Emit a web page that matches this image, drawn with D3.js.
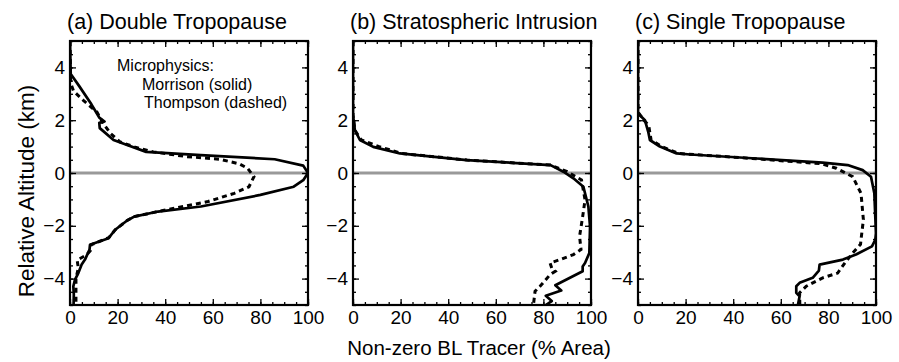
<!DOCTYPE html>
<html>
<head>
<meta charset="utf-8">
<script src="https://cdn.jsdelivr.net/npm/d3@7"></script>
<style>
  body { margin: 0; background: #fff; }
  svg { font-family: "Liberation Sans", Arial, Helvetica, sans-serif; }
</style>
</head>
<body>
<svg id="chart" width="899" height="362"></svg>
<script>
// (a) double tropopause
const aSolidAlt = [5, 3.75, 3.3, 2.6, 2.1, 1.95, 1.9, 1.7, 1.25, 1.06, 0.8, 0.68, 0.52, 0.28, 0, -0.27, -0.52, -0.83, -1.27, -1.46, -1.65, -1.8, -2.15, -2.47, -2.72, -2.9, -3.28, -3.47, -3.79, -4.04, -4.29, -4.6, -5];
const aSolidPct = [0, 0.3, 3.8, 9, 12.3, 14.5, 12.3, 12.5, 18.3, 24, 32, 55, 86, 98, 100, 98, 94, 80, 55, 37, 27, 24, 19, 16.2, 8.4, 8.2, 6.3, 4.9, 3.5, 2.1, 1.4, 1.6, 1.5];
const aDashAlt = [5, 3.4, 3.1, 2.75, 2.31, 1.87, 1.5, 1.18, 0.99, 0.8, 0.62, 0.52, 0.35, 0.18, -0.14, -0.52, -0.77, -1.08, -1.33, -1.46, -1.65, -1.8, -2.15, -2.45, -2.72, -2.95, -3.1, -3.3, -3.6, -4.0, -4.5, -5];
const aDashPct = [0, 0.3, 1.5, 5.6, 11.3, 14, 17, 21, 27, 35, 49, 63, 71, 74.6, 77.3, 75.2, 69, 58, 44, 37, 27, 24, 19, 16.3, 8.8, 8.5, 7, 3, 3.5, 2.5, 2.5, 2.5];

// (b) stratospheric intrusion
const bSolidAlt = [5, 2.2, 1.62, 1.25, 0.99, 0.74, 0.49, 0.3, 0.05, -0.2, -0.52, -1.27, -2.03, -3.03, -3.41, -3.54, -3.72, -4.25, -4.45, -4.65, -4.85, -5];
const bSolidPct = [0, 0, 0.8, 2.9, 8.5, 19.7, 47.8, 83, 88.4, 92.6, 96.8, 98.9, 99.6, 99.3, 97.5, 96.5, 96.5, 85, 87.5, 81, 83.5, 81];
const bDashAlt = [5, 2.2, 1.62, 1.25, 1.1, 1.0, 0.74, 0.49, 0.3, 0.05, -0.26, -1.02, -1.65, -2.4, -2.9, -3.09, -3.28, -3.41, -3.6, -3.72, -3.85, -4.29, -4.48, -5];
const bDashPct = [0, 0, 0.8, 3.5, 8, 11, 20.5, 48, 83, 90, 96, 97.5, 96.5, 95.2, 95.8, 92.6, 87, 82.8, 83.5, 85, 82.8, 78.6, 76.5, 75.8];

// (c) single tropopause
const cSolidAlt = [5, 2.31, 2.19, 2.0, 1.56, 1.25, 1.0, 0.74, 0.7, 0.55, 0.39, 0.3, 0.11, -0.14, -0.77, -1.65, -2.28, -2.53, -2.78, -3.09, -3.28, -3.47, -3.7, -3.97, -4.16, -4.29, -4.54, -4.67, -5];
const cSolidPct = [0, 0, 0.8, 2.9, 4.3, 5, 9.2, 16.2, 22, 49.7, 77.6, 88.1, 94.4, 97.9, 99.3, 99.7, 100, 99.7, 98.3, 91.6, 86.1, 76.3, 76, 73.4, 67.9, 66.5, 66.5, 67.9, 67.2];
const cDashAlt = [5, 2.31, 2.0, 1.8, 1.25, 1.0, 0.74, 0.55, 0.35, 0.18, -0.14, -0.77, -1.77, -2.53, -2.7, -3.03, -3.35, -3.79, -3.97, -4.29, -4.54, -5];
const cDashPct = [0, 0, 2.5, 4.5, 5.5, 10, 17, 48, 77, 83.3, 90.2, 93.7, 94.7, 93.7, 93.5, 90.2, 87.4, 83.9, 77.6, 70.7, 67.9, 68];

const titles = ["(a) Double Tropopause", "(b) Stratospheric Intrusion", "(c) Single Tropopause"];
const xTicks = [0, 20, 40, 60, 80, 100];
const yTicks = [-4, -2, 0, 2, 4];
const legendLines = ["Microphysics:", "Morrison (solid)", "Thompson (dashed)"];

const panels = [
  { left: 70, solid: [aSolidAlt, aSolidPct], dash: [aDashAlt, aDashPct] },
  { left: 353, solid: [bSolidAlt, bSolidPct], dash: [bDashAlt, bDashPct] },
  { left: 638, solid: [cSolidAlt, cSolidPct], dash: [cDashAlt, cDashPct] }
];

const svg = d3.select("#chart");
const pw = 238, plotTop = 41, plotBottom = 305;
const fmt = d => d < 0 ? "\u2212" + Math.abs(d) : String(d);

const y = d3.scaleLinear().domain([-5, 5]).range([plotBottom, plotTop]);
const xMinor = d3.range(0, 101, 5);
const yMinor = d3.range(-5, 5.01, 0.5);

panels.forEach((p, i) => {
  const x = d3.scaleLinear().domain([0, 100]).range([p.left, p.left + pw]);
  const g = svg.append("g");

  g.append("clipPath").attr("id", "clip" + i)
    .append("rect").attr("x", p.left).attr("y", plotTop).attr("width", pw).attr("height", plotBottom - plotTop);

  // zero line
  g.append("line")
    .attr("x1", x(0)).attr("x2", x(100))
    .attr("y1", y(0)).attr("y2", y(0))
    .attr("stroke", "#999").attr("stroke-width", 3);

  const line = d3.line().x(d => x(d[1])).y(d => y(d[0]));
  const pts = s => s[0].map((a, k) => [a, s[1][k]]);

  g.append("path")
    .datum(pts(p.dash))
    .attr("clip-path", `url(#clip${i})`)
    .attr("fill", "none").attr("stroke", "#000")
    .attr("stroke-width", 3).attr("stroke-dasharray", "5,4")
    .attr("d", line);

  g.append("path")
    .datum(pts(p.solid))
    .attr("clip-path", `url(#clip${i})`)
    .attr("fill", "none").attr("stroke", "#000")
    .attr("stroke-width", 2.7).attr("stroke-linejoin", "round")
    .attr("d", line);

  // minor ticks (inside, all four sides)
  const minor = [
    [d3.axisBottom(x).tickValues(xMinor), `translate(0,${plotBottom})`],
    [d3.axisTop(x).tickValues(xMinor), `translate(0,${plotTop})`],
    [d3.axisLeft(y).tickValues(yMinor), `translate(${p.left},0)`],
    [d3.axisRight(y).tickValues(yMinor), `translate(${p.left + pw},0)`]
  ];
  minor.forEach(([ax, tr]) => {
    const a = g.append("g").attr("transform", tr)
      .call(ax.tickSize(-3).tickFormat(""));
    a.select(".domain").remove();
    a.selectAll("line").attr("stroke-width", 1.3);
  });

  // major ticks
  const xb = g.append("g").attr("transform", `translate(0,${plotBottom})`)
    .call(d3.axisBottom(x).tickValues(xTicks).tickSize(-6).tickPadding(6));
  const xt = g.append("g").attr("transform", `translate(0,${plotTop})`)
    .call(d3.axisTop(x).tickValues(xTicks).tickSize(-6).tickFormat(""));
  const yl = g.append("g").attr("transform", `translate(${p.left},0)`)
    .call(d3.axisLeft(y).tickValues(yTicks).tickSize(-6).tickPadding(5).tickFormat(fmt));
  const yr = g.append("g").attr("transform", `translate(${p.left + pw},0)`)
    .call(d3.axisRight(y).tickValues(yTicks).tickSize(-6).tickFormat(""));
  [xb, xt, yl, yr].forEach(a => {
    a.select(".domain").remove();
    a.selectAll("line").attr("stroke-width", 1.3);
    a.selectAll("text").attr("font-size", 19).attr("fill", "#000")
      .style("font-family", '"Liberation Sans", Arial, sans-serif');
  });

  g.append("rect")
    .attr("x", p.left).attr("y", plotTop)
    .attr("width", pw).attr("height", plotBottom - plotTop)
    .attr("fill", "none").attr("stroke", "#000").attr("stroke-width", 2.2);

  g.append("text")
    .attr("x", p.left - 3).attr("y", 29)
    .attr("font-size", 21.5)
    .text(titles[i]);
});

// legend in panel a
svg.append("g").selectAll("text")
  .data(legendLines)
  .join("text")
  .attr("x", (d, k) => k === 0 ? 117 : (k === 1 ? 142 : 144))
  .attr("y", (d, k) => [71, 90, 108][k])
  .attr("font-size", 16)
  .text(d => d);

svg.append("text")
  .attr("transform", "translate(34,191) rotate(-90)")
  .attr("text-anchor", "middle")
  .attr("font-size", 22.5)
  .text("Relative Altitude (km)");

svg.append("text")
  .attr("x", 479).attr("y", 355)
  .attr("text-anchor", "middle")
  .attr("font-size", 20.5)
  .text("Non-zero BL Tracer (% Area)");
</script>
</body>
</html>
